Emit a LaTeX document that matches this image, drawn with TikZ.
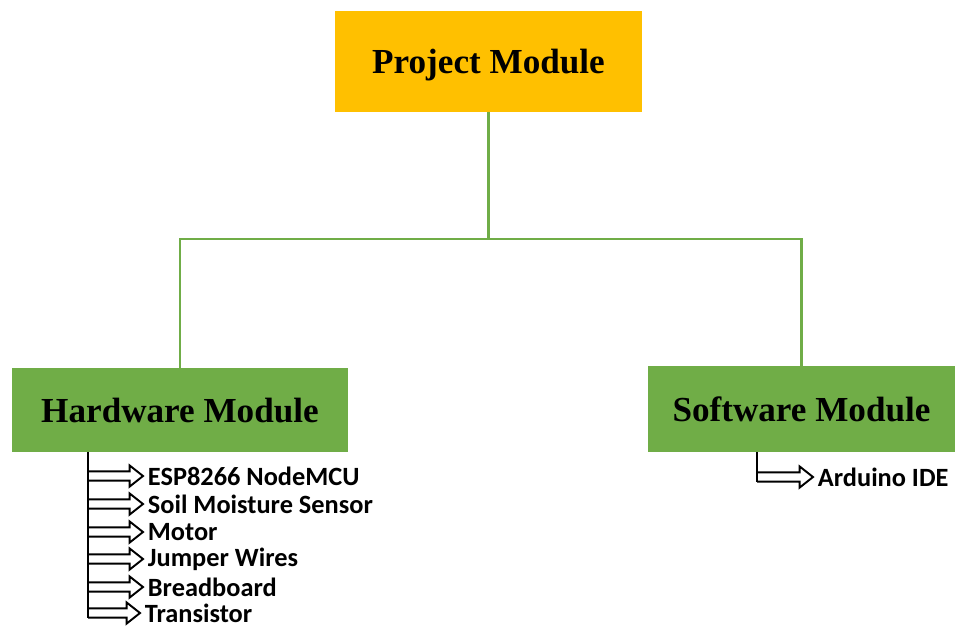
\documentclass[tikz,border=0pt]{standalone}
\usepackage{fontspec}
\setmainfont{Liberation Serif}
\newfontfamily\itemfont{Carlito}
\usepackage{xcolor}
\usetikzlibrary{calc}

\definecolor{projyellow}{HTML}{FFC000}
\definecolor{modgreen}{HTML}{70AD47}

\begin{document}
\begin{tikzpicture}[x=0.02cm, y=-0.02cm,
    module/.style={inner sep=0pt, text depth=0pt, font=\bfseries\fontsize{20}{24}\selectfont},
    tree/.style={draw=modgreen, line width=1.3pt},
    bus/.style={draw=black, line width=1.4pt},
    item/.style={anchor=west, inner sep=0pt, outer sep=2.8pt,
        font=\itemfont\bfseries\fontsize{15}{18}\selectfont},
    hollow/.style={line width=1.1pt, line join=miter, to path={let \p1=(\tikztostart), \p2=(\tikztotarget) in
        (\x1,\y1+2.6pt) -- (\x2-7.6pt,\y1+2.6pt) -- (\x2-7.6pt,\y1+6pt) -- (\x2,\y1)
        -- (\x2-7.6pt,\y1-6pt) -- (\x2-7.6pt,\y1-2.6pt) -- (\x1,\y1-2.6pt)}}]
    \useasboundingbox (0,0) rectangle (955,627);

    % Module boxes
    \node [module, fill=projyellow, minimum width=6.14cm, minimum height=2.02cm] (proj) at (488.5,61.5) {Project Module};
    \node [module, fill=modgreen, minimum width=6.72cm, minimum height=1.68cm] (hw) at (180,410) {Hardware Module};
    \node [module, fill=modgreen, minimum width=6.14cm, minimum height=1.72cm] (sw) at (801.5,409) {Software Module};

    % Green tree
    \coordinate (split) at (proj.south |- 0,239);
    \draw [tree] (proj.south) -- (split);
    \draw [tree] (split) -| (hw.north);
    \draw [tree] (split) -| (sw.north);

    % Hardware parts
    \node [item] (esp) at (143,476) {ESP8266 NodeMCU};
    \node [item] (soil) at (143,504) {Soil Moisture Sensor};
    \node [item] (motor) at (143,532) {Motor};
    \node [item] (jumper) at (143,559) {Jumper Wires};
    \node [item] (bread) at (143,587) {Breadboard};
    \node [item] (trans) at (140,613) {Transistor};

    \coordinate (hwbus) at (88,452);
    \draw [bus] (hwbus) -- ([yshift=-2.6pt]hwbus |- trans.west);
    \foreach \part in {esp,soil,motor,jumper,bread,trans}
        \draw [hollow] (hwbus |- \part.west) to (\part.west);

    % Software parts
    \node [item] (ide) at (813,477) {Arduino IDE};
    \coordinate (swbus) at (757,452);
    \draw [bus] (swbus) -- ([yshift=-2.6pt]swbus |- ide.west);
    \draw [hollow] (swbus |- ide.west) to (ide.west);
\end{tikzpicture}
\end{document}
